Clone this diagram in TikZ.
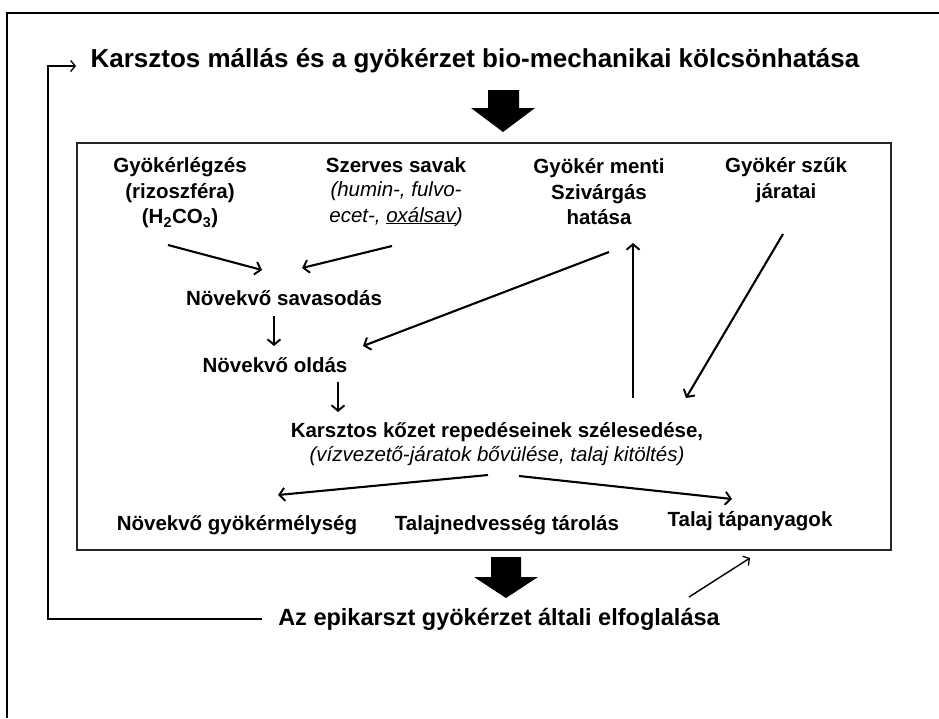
\documentclass[tikz,border=0pt]{standalone}
\usepackage{fontspec}
\setmainfont{Liberation Sans}
\usetikzlibrary{arrows.meta}
\begin{document}
\begin{tikzpicture}[x=1pt,y=-1pt,
  lbl/.style={font=\fontsize{20.5}{25.5}\selectfont\bfseries, align=center, inner sep=0pt},
  ital/.style={font=\fontsize{20.5}{25.5}\selectfont\itshape, align=center, inner sep=0pt},
  big/.style={font=\fontsize{26}{30}\selectfont\bfseries, inner sep=0pt},
  bottomtxt/.style={font=\fontsize{23.5}{27}\selectfont\bfseries, inner sep=0pt},
  arr/.style={line width=2.1pt, -{Straight Barb[length=5.5pt,width=13pt,line width=1.9pt]}},
  thinarr/.style={line width=1.4pt, -{Straight Barb[length=4.5pt,width=11pt,line width=1.3pt]}}]
\useasboundingbox (0,0) rectangle (939,718);
\fill[white] (0,0) rectangle (939,718);
% outer frame (top and left only)
\draw[line width=1.6pt] (7,718) -- (7,13) -- (939,13);

% title
\node[big] (title) at (475,61) {Karsztos mállás és a gyökérzet bio-mechanikai kölcsönhatása};

% top thick arrow
\fill (488,90) -- (519,90) -- (519,108) -- (535,108) -- (503,132) -- (471,108) -- (488,108) -- cycle;

% main box
\node[draw=black!85, line width=1.3pt, minimum width=814pt, minimum height=407pt, inner sep=0pt] (box) at (484,346.5) {};

% nodes
\node[lbl] (A) at (180,193) {Gyökérlégzés\\(rizoszféra)\\(H\textsubscript{2}CO\textsubscript{3})};
\node[lbl] (B) at (396,165) {Szerves savak};
\node[ital] (B2) at (396,204) {(humin-, fulvo-\\ecet-, \underline{oxálsav})};
\node[lbl] (C) at (599,192) {Gyökér menti\\Szivárgás\\hatása};
\node[lbl] (D) at (786,180) {Gyökér szűk\\járatai};
\node[lbl] (E) at (284,298) {Növekvő savasodás};
\node[lbl] (F) at (275,365) {Növekvő oldás};
\node[lbl] (G) at (497,432) {Karsztos kőzet repedéseinek szélesedése,};
\node[ital] (G2) at (497,456) {(vízvezető-járatok bővülése, talaj kitöltés)};
\node[lbl] (H) at (237,525) {Növekvő gyökérmélység};
\node[lbl] (I) at (507,525) {Talajnedvesség tárolás};
\node[lbl] (J) at (750,521) {Talaj tápanyagok};
\node[bottomtxt] (K) at (499,619) {Az epikarszt gyökérzet általi elfoglalása};

% bottom thick arrow
\fill (491,557) -- (521,557) -- (521,577) -- (538,577) -- (506,598) -- (474,577) -- (491,577) -- cycle;

% connector end points
\coordinate (a1) at (168,245); \coordinate (e1) at (262,270);
\coordinate (b1) at (392,246); \coordinate (e2) at (302,268);
\coordinate (e3) at (274,316); \coordinate (f1) at (274,346);
\coordinate (f2) at (338,382); \coordinate (g1) at (338,412);
\coordinate (c1) at (609,252); \coordinate (f3) at (363,346);
\coordinate (g2) at (633,398); \coordinate (c2) at (633,243);
\coordinate (d1) at (783,234); \coordinate (g3) at (686,398);
\coordinate (g4) at (488,475); \coordinate (h1) at (278,495);
\coordinate (g5) at (519,476); \coordinate (j1) at (732,499);
\coordinate (k1) at (689,597); \coordinate (j2) at (750,558);
\coordinate (k0) at (262,619); \coordinate (fb1) at (48,619);
\coordinate (fb2) at (48,66); \coordinate (t0) at (76,66);

\draw[arr] (a1) -- (e1);
\draw[arr] (b1) -- (e2);
\draw[arr] (e3) -- (f1);
\draw[arr] (f2) -- (g1);
\draw[arr] (c1) -- (f3);
\draw[arr] (g2) -- (c2);
\draw[arr] (d1) -- (g3);
\draw[arr] (g4) -- (h1);
\draw[arr] (g5) -- (j1);
\draw[thinarr] (k1) -- (j2);
\draw[thinarr] (k0) -- (fb1) -- (fb2) -- (t0);
\end{tikzpicture}
\end{document}
